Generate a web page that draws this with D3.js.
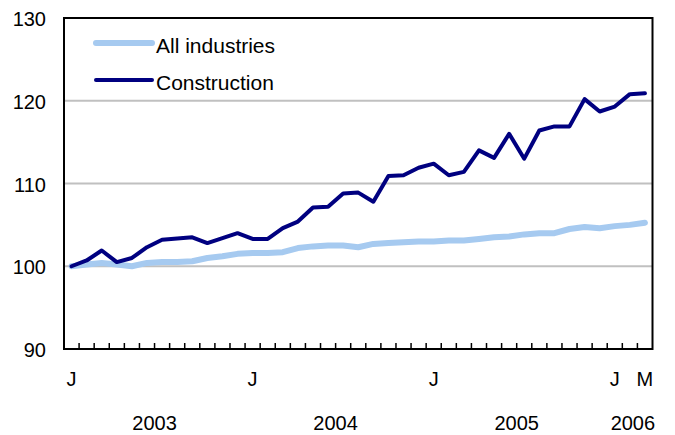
<!DOCTYPE html>
<html>
<head>
<meta charset="utf-8">
<script src="https://cdn.jsdelivr.net/npm/d3@7"></script>
<style>
  body { margin: 0; background: #fff; }
  text { font-family: "Liberation Sans", Arial, sans-serif; fill: #000; }
</style>
</head>
<body>
<svg id="chart" width="675" height="435"></svg>
<script>
// monthly index, Jan 2003 .. Mar 2006
const months = [
  "2003-01","2003-02","2003-03","2003-04","2003-05","2003-06","2003-07","2003-08","2003-09","2003-10","2003-11","2003-12",
  "2004-01","2004-02","2004-03","2004-04","2004-05","2004-06","2004-07","2004-08","2004-09","2004-10","2004-11","2004-12",
  "2005-01","2005-02","2005-03","2005-04","2005-05","2005-06","2005-07","2005-08","2005-09","2005-10","2005-11","2005-12",
  "2006-01","2006-02","2006-03"
];

const allIndustries = [
  100.0, 100.2, 100.4, 100.2, 100.0, 100.4, 100.5, 100.5, 100.6, 101.0, 101.2, 101.5,
  101.6, 101.6, 101.7, 102.2, 102.4, 102.5, 102.5, 102.3, 102.7, 102.8, 102.9, 103.0,
  103.0, 103.1, 103.1, 103.3, 103.5, 103.6, 103.85, 104.0, 104.0, 104.5, 104.75, 104.6,
  104.85, 105.0, 105.25
];

const construction = [
  100.0, 100.7, 101.9, 100.5, 101.0, 102.3, 103.2, 103.35, 103.5, 102.8, 103.4, 104.0,
  103.3, 103.3, 104.6, 105.4, 107.1, 107.2, 108.8, 108.9, 107.8, 110.9, 111.0, 111.9,
  112.4, 111.0, 111.4, 114.0, 113.1, 116.0, 113.0, 116.4, 116.9, 116.9, 120.2, 118.7,
  119.3, 120.8, 120.9
];

const yTicks = [90, 100, 110, 120, 130];
const monthTickLabels = [
  { month: "2003-01", label: "J" },
  { month: "2004-01", label: "J" },
  { month: "2005-01", label: "J" },
  { month: "2006-01", label: "J" },
  { month: "2006-03", label: "M" }
];
const yearLabels = ["2003", "2004", "2005", "2006"];
const yearCenters = [5.5, 17.5, 29.5, 37.2];

const svg = d3.select("#chart"),
  margin = {top: 18, right: 22.5, bottom: 86, left: 64},
  width = +svg.attr("width") - margin.left - margin.right,
  height = +svg.attr("height") - margin.top - margin.bottom,
  g = svg.append("g").attr("transform", "translate(" + margin.left + "," + margin.top + ")");

const x = d3.scaleLinear()
  .domain([-0.5, months.length - 0.5])
  .range([0, width]);

const y = d3.scaleLinear()
  .domain([90, 130])
  .range([height, 0]);

// gridlines
g.append("g")
  .selectAll("line")
  .data(yTicks.filter(d => d > 90 && d < 130))
  .join("line")
  .attr("x1", 0)
  .attr("x2", width)
  .attr("y1", d => y(d))
  .attr("y2", d => y(d))
  .attr("stroke", "#c0c0c0")
  .attr("stroke-width", 2);

// y labels
g.append("g")
  .selectAll("text")
  .data(yTicks)
  .join("text")
  .attr("x", -18)
  .attr("y", d => y(d) + 1)
  .attr("dy", "0.35em")
  .attr("text-anchor", "end")
  .style("font-size", "20px")
  .text(d => d);

// month ticks on the bottom axis, at month boundaries
g.append("g")
  .selectAll("line")
  .data(d3.range(months.length - 1))
  .join("line")
  .attr("x1", i => x(i + 0.5))
  .attr("x2", i => x(i + 0.5))
  .attr("y1", height)
  .attr("y2", height - 6)
  .attr("stroke", "#000")
  .attr("stroke-width", 1.5);

// month labels
g.append("g")
  .selectAll("text")
  .data(monthTickLabels)
  .join("text")
  .attr("x", d => x(months.indexOf(d.month)))
  .attr("y", height + 30)
  .attr("dy", "0.35em")
  .attr("text-anchor", "middle")
  .style("font-size", "20px")
  .text(d => d.label);

// year labels
g.append("g")
  .selectAll("text")
  .data(yearLabels)
  .join("text")
  .attr("x", (d, i) => x(yearCenters[i]))
  .attr("y", height + 74)
  .attr("dy", "0.35em")
  .attr("text-anchor", "middle")
  .style("font-size", "20px")
  .text(d => d);

const line = d3.line()
  .x((d, i) => x(i))
  .y(d => y(d));

g.append("path")
  .datum(allIndustries)
  .attr("fill", "none")
  .attr("stroke", "#a6caf0")
  .attr("stroke-width", 6)
  .attr("stroke-linejoin", "round")
  .attr("stroke-linecap", "round")
  .attr("d", line);

g.append("path")
  .datum(construction)
  .attr("fill", "none")
  .attr("stroke", "#000080")
  .attr("stroke-width", 4)
  .attr("stroke-linejoin", "round")
  .attr("stroke-linecap", "round")
  .attr("d", line);

// frame
g.append("rect")
  .attr("x", 0)
  .attr("y", 0)
  .attr("width", width)
  .attr("height", height)
  .attr("fill", "none")
  .attr("stroke", "#000")
  .attr("stroke-width", 2);

// legend
const legend = [
  { name: "All industries", color: "#a6caf0", w: 6, y: 25 },
  { name: "Construction", color: "#000080", w: 4, y: 62 }
];
const lg = g.append("g").selectAll("g").data(legend).join("g")
  .attr("transform", d => "translate(0," + d.y + ")");
lg.append("line")
  .attr("x1", 32).attr("x2", 88)
  .attr("stroke", d => d.color)
  .attr("stroke-width", d => d.w)
  .attr("stroke-linecap", "round");
lg.append("text")
  .attr("x", 92)
  .attr("y", 3)
  .attr("dy", "0.35em")
  .style("font-size", "21px")
  .text(d => d.name);
</script>
</body>
</html>
